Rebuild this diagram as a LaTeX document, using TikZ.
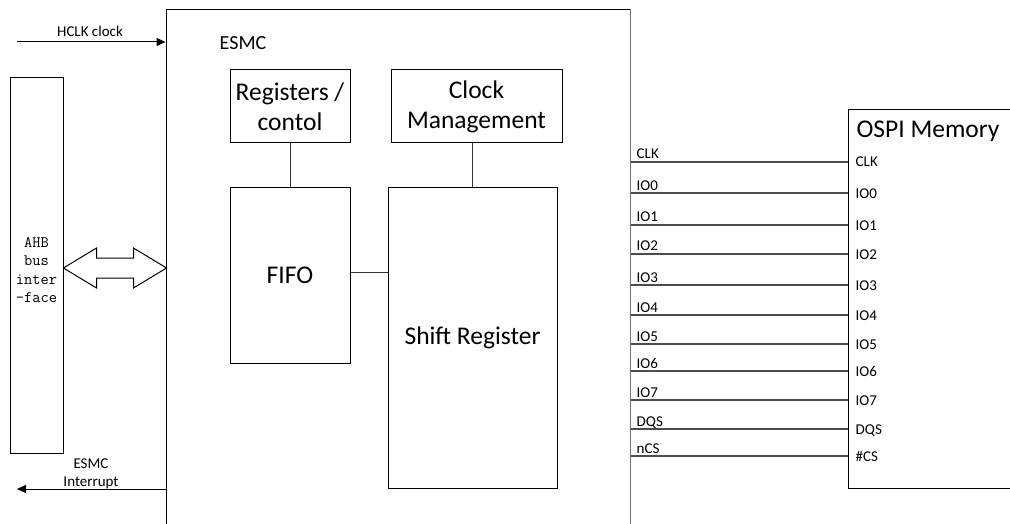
\documentclass[tikz,border=0pt]{standalone}
\usepackage{fontspec}
\setmainfont{Carlito}
\usetikzlibrary{arrows.meta,calc}
\begin{document}
\begin{tikzpicture}[x=1pt,y=-1pt,
  box/.style={draw=black, line width=1pt, inner sep=0pt, align=center},
  conn/.style={draw=black!80, line width=1pt},
  sig/.style={draw=black!70, line width=1.2pt},
  arr/.style={draw=black, line width=1pt, -{Triangle[length=9pt,width=8pt]}},
  big/.style={font=\fontsize{25.5}{30}\selectfont},
  small/.style={font=\fontsize{15}{18}\selectfont, inner sep=0pt},
  mono/.style={font=\ttfamily\fontsize{16}{18.3}\selectfont, align=center, inner sep=0pt}]
\useasboundingbox (0,0) rectangle (1010,524);

% main blocks
\node[box, minimum width=464pt, minimum height=540pt] (esmc) at (398,280) {};
\draw[draw=black!55, line width=1.6pt] (esmc.north east) -- (esmc.south east);
\node[font=\fontsize{20}{24}\selectfont] (esmclbl) at (243,43) {ESMC};

\node[box, minimum width=53pt, minimum height=375pt] (ahb) at (36.5,265.5) {};
\node[mono] (ahbtxt) at (36.5,270) {AHB\\bus\\inter\\-face};

\node[box, big, minimum width=120pt, minimum height=73pt] (reg) at (290,106.5) {Registers /\\contol};
\node[box, big, minimum width=171pt, minimum height=73pt] (clk) at (476.5,106.5) {Clock\\Management};
\node[box, big, minimum width=120pt, minimum height=175pt] (fifo) at (290,275.5) {FIFO};
\node[box, big, minimum width=169pt, minimum height=300pt] (shift) at (472.5,338) {Shift Register};

\node[box, minimum width=190pt, minimum height=378pt] (ospi) at (943,299) {};
\node[big] (ospititle) at (928,131) {OSPI Memory};

% internal connectors
\draw[conn] (reg.south) -- (fifo.north);
\draw[conn] (shift.north) -- (shift.north |- clk.south);
\coordinate (yfs) at (0,272);
\draw[conn] (fifo.east |- yfs) -- (shift.west |- yfs);

% HCLK clock
\coordinate (hclkin) at (17,42);
\draw[arr] (hclkin) -- (hclkin -| esmc.west);
\node[small] (hclklbl) at (90,31) {HCLK clock};

% interrupt
\coordinate (intout) at (17,489);
\draw[arr] (intout -| esmc.west) -- (intout);
\node[small, align=center] (intlbl) at (91,473.5) {ESMC\\Interrupt};

% double arrow AHB <-> ESMC
\coordinate (dA) at ($(ahb.east)+(0,2.5)$);
\draw[line width=1pt] (dA) -- ++(33,-20) -- ++(0,10) -- ++(37,0) -- ++(0,-10)
  -- ++(33,20) -- ++(-33,20) -- ++(0,-10) -- ++(-37,0) -- ++(0,10) -- cycle;

% signal lines
\foreach \l/\r/\y [count=\i] in {CLK/CLK/162, IO0/IO0/193, IO1/IO1/225, IO2/IO2/254,
    IO3/IO3/285, IO4/IO4/315, IO5/IO5/344, IO6/IO6/371, IO7/IO7/400, DQS/DQS/429, nCS/\#CS/456} {
  \coordinate (y\i) at (0,\y);
  \draw[sig] (esmc.east |- y\i) -- (ospi.west |- y\i);
  \node[small, anchor=base west] (ll\i) at ($(esmc.east |- y\i)+(6,-3)$) {\l};
  \node[small, anchor=base west] (rl\i) at ($(ospi.west |- y\i)+(8,5)$) {\r};
}
\end{tikzpicture}
\end{document}
